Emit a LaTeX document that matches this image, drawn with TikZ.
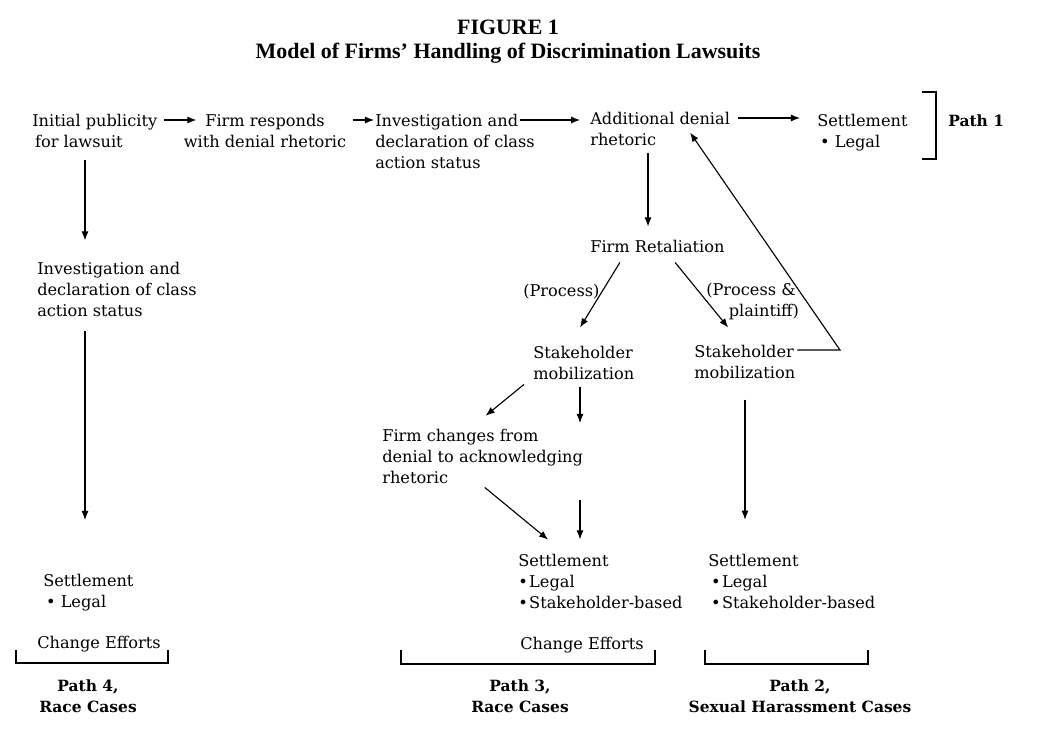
\documentclass[tikz,border=0pt]{standalone}
\usepackage{fontspec}
\setmainfont{DejaVu Serif}
\newfontfamily\titlefont{Liberation Serif}
\usetikzlibrary{arrows.meta}
\begin{document}
\begin{tikzpicture}[x=0.025cm, y=-0.025cm,
	txt/.style={inner sep=0pt, align=left, anchor=base west, font=\fontsize{11.5}{14.9}\selectfont},
	pathlbl/.style={inner sep=0pt, align=center, anchor=base, font=\bfseries\fontsize{11}{14.9}\selectfont},
	arr/.style={-{Latex[length=6.5pt,width=5pt]}, line width=0.8pt},
	brk/.style={line width=0.9pt}]
			\useasboundingbox (0,0) rectangle (1060,745);
			\node[inner sep=0pt, align=center, anchor=base, font=\titlefont\bfseries\fontsize{15.6}{17}\selectfont] (title) at (508,58) {FIGURE 1\\Model of Firms’ Handling of Discrimination Lawsuits};
			\node[txt] (init) at (32,147) {Initial publicity\\\hspace{2pt}for lawsuit};
			\node[txt, align=center, anchor=base] (resp) at (265,147) {Firm responds\\with denial rhetoric};
			\node[txt] (inv1) at (375,168) {Investigation and\\declaration of class\\action status};
			\node[txt] (add) at (590,145) {Additional denial\\rhetoric};
			\node[txt] (set1) at (817,147) {Settlement\\\hspace{2pt}\textbullet\ Legal};
			\node[pathlbl, anchor=base west] (p1) at (948,126) {Path 1};
			\node[txt] (inv2) at (37,316) {Investigation and\\declaration of class\\action status};
			\node[txt] (retal) at (590,252) {Firm Retaliation};
			\node[txt] (proc) at (523,296) {(Process)};
			\node[txt] (procpl) at (706,316) {(Process \&\\\hspace{16pt}plaintiff)};
			\node[txt] (sm1) at (533,379) {Stakeholder\\mobilization};
			\node[txt] (sm2) at (694,378) {Stakeholder\\mobilization};
			\node[txt] (chg) at (382,483) {Firm changes from\\denial to acknowledging\\rhetoric};
			\node[txt] (set3) at (518,608) {Settlement\\\textbullet\hspace{1pt}Legal\\\textbullet\hspace{1pt}Stakeholder-based};
			\node[txt] (set2) at (708,608) {Settlement\\\hspace{2pt}\textbullet\hspace{1pt}Legal\\\hspace{2pt}\textbullet\hspace{1pt}Stakeholder-based};
			\node[txt] (set4) at (43,607) {Settlement\\\hspace{2pt}\textbullet\ Legal};
			\node[txt] (ce4) at (37,648) {Change Efforts};
			\node[txt] (ce3) at (520,649) {Change Efforts};
			\node[pathlbl] (p4) at (88,712) {Path 4,\\Race Cases};
			\node[pathlbl] (p3) at (520,712) {Path 3,\\Race Cases};
			\node[pathlbl] (p2) at (800,712) {Path 2,\\Sexual Harassment Cases};
			\coordinate (r118) at (0,118);
			\coordinate (r120) at (0,120);
			\coordinate (r350) at (0,350);
			\coordinate (c85) at (85,0);
			\coordinate (c648) at (648,0);
			\coordinate (c626) at (626,0);
			\coordinate (c569) at (569,0);
			\coordinate (c667) at (667,0);
			\coordinate (c742) at (742,0);
			\coordinate (c840) at (840,0);
			\coordinate (c699) at (699,0);
			\coordinate (c530) at (530,0);
			\coordinate (c470) at (470,0);
			\coordinate (c580) at (580,0);
			\coordinate (c480) at (480,0);
			\coordinate (c565) at (565,0);
			\coordinate (c745) at (745,0);
			\coordinate (gaptop) at (580,423);
			\coordinate (gapbot) at (580,500);
			\draw[arr, shorten <=4.3pt, shorten >=-9.2pt] (init.east |- r120) -- (resp.west |- r120);
			\draw[arr, shorten <=4.3pt, shorten >=0.7pt] (resp.east |- r120) -- (inv1.west |- r120);
			\draw[arr, shorten <=-10.7pt, shorten >=7pt] (inv1.east |- r120) -- (add.west |- r120);
			\draw[arr, shorten <=5.7pt, shorten >=12pt] (add.east |- r118) -- (set1.west |- r118);
			\draw[arr, shorten <=5pt, shorten >=9.2pt] (add.south -| c648) -- (retal.north -| c648);
			\draw[arr, shorten <=9.2pt, shorten >=15pt] (init.south -| c85) -- (inv2.north -| c85);
			\draw[arr, shorten <=10pt, shorten >=38pt] (inv2.south -| c85) -- (set4.north -| c85);
			\draw[arr, shorten <=8.3pt, shorten >=15pt] (retal.south -| c626) -- (sm1.north -| c569);
			\draw[arr, shorten <=9.1pt, shorten >=15.5pt] (retal.south -| c667) -- (sm2.north -| c742);
			\draw[arr, shorten <=1.4pt, shorten >=-11.2pt] (sm2.east |- r350) -- (c840 |- r350) -- (add.south -| c699);
			\draw[arr, shorten <=5.5pt, shorten >=14.3pt] (sm1.south -| c530) -- (chg.north -| c470);
			\draw[arr, shorten <=5pt] (sm1.south -| c580) -- (gaptop);
			\draw[arr, shorten >=10pt] (gapbot) -- (set3.north -| c580);
			\draw[arr, shorten <=4.4pt, shorten >=15.5pt] (chg.south -| c480) -- (set3.north -| c565);
			\draw[arr, shorten <=15pt, shorten >=24pt] (sm2.south -| c745) -- (set2.north -| c745);
			\draw[brk] (922,92) -- (936,92) -- (936,159) -- (922,159);
			\draw[brk] (16,650) -- (16,663) -- (168,663) -- (168,650);
			\draw[brk] (401,650) -- (401,664) -- (655,664) -- (655,650);
			\draw[brk] (705,650) -- (705,664) -- (868,664) -- (868,650);
\end{tikzpicture}
\end{document}
